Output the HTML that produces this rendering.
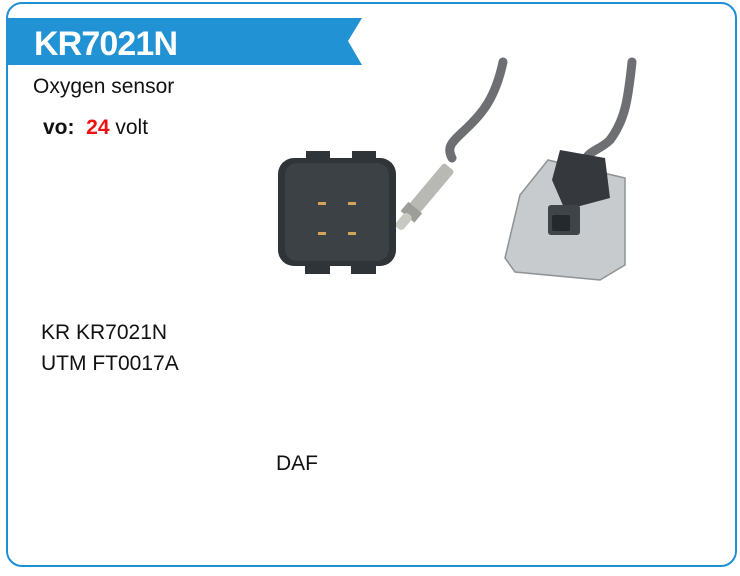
<!DOCTYPE html>
<html><head><meta charset="utf-8"><style>
html,body{margin:0;padding:0;background:#fff;width:740px;height:576px;overflow:hidden;font-family:"Liberation Sans",Arial,sans-serif}
.frame{position:absolute;left:6px;top:2px;width:727px;height:561px;border:2px solid #1d8fd2;border-radius:16px}
.t{position:absolute;color:#111;white-space:nowrap;font-size:21px}
</style></head><body>
<div class="frame"></div>
<svg style="position:absolute;left:0;top:0" width="740" height="576">
<polygon points="7,18 362,18 348,41 362,65 7,65" fill="#2192d4"/>
<text x="34" y="55" font-family="Liberation Sans" font-weight="bold" font-size="34" fill="#fff" textLength="144">KR7021N</text>
<path d="M503,62 C495,100 480,115 470,125 C455,140 445,145 452,158" stroke="#6d6f73" stroke-width="9" fill="none" stroke-linecap="round"/>
<path d="M632,62 C628,100 625,120 610,140 C600,150 590,150 585,160" stroke="#6d6f73" stroke-width="9" fill="none" stroke-linecap="round"/>
<g transform="rotate(-50 430 190)">
<rect x="405" y="183" width="55" height="14" rx="3" fill="#b8b8b4"/>
<rect x="395" y="181" width="12" height="18" fill="#9d9d99"/>
<rect x="380" y="185" width="18" height="10" rx="4" fill="#c9c9c4"/>
</g>
<rect x="278" y="158" width="118" height="108" rx="16" fill="#2f3438"/>
<rect x="285" y="163" width="104" height="98" rx="12" fill="#3b4145"/>
<rect x="306" y="151" width="24" height="10" fill="#2f3438"/>
<rect x="352" y="151" width="24" height="10" fill="#2f3438"/>
<rect x="305" y="262" width="25" height="12" fill="#2f3438"/>
<rect x="351" y="262" width="25" height="12" fill="#2f3438"/>
<rect x="318" y="202" width="8" height="3" fill="#d4a35a"/>
<rect x="348" y="202" width="8" height="3" fill="#d4a35a"/>
<rect x="318" y="232" width="8" height="3" fill="#d4a35a"/>
<rect x="348" y="232" width="8" height="3" fill="#d4a35a"/>
<polygon points="548,160 625,178 625,265 600,280 515,272 505,258 520,195" fill="#c8cbcd" stroke="#8e9294" stroke-width="1.5"/>
<polygon points="560,150 605,158 610,198 565,210 552,180" fill="#35393d"/>
<rect x="548" y="205" width="32" height="30" rx="3" fill="#3e4448"/>
<rect x="552" y="215" width="18" height="16" rx="2" fill="#25292c"/>
</svg>
<div class="t" style="left:33px;top:75px">Oxygen sensor</div>
<div class="t" style="left:43px;top:116px"><b>vo:</b>&nbsp; <b style="color:#e11">24</b> volt</div>
<div class="t" style="left:41px;top:321px">KR KR7021N</div>
<div class="t" style="left:41px;top:352px">UTM FT0017A</div>
<div class="t" style="left:276px;top:452px">DAF</div>
</body></html>
